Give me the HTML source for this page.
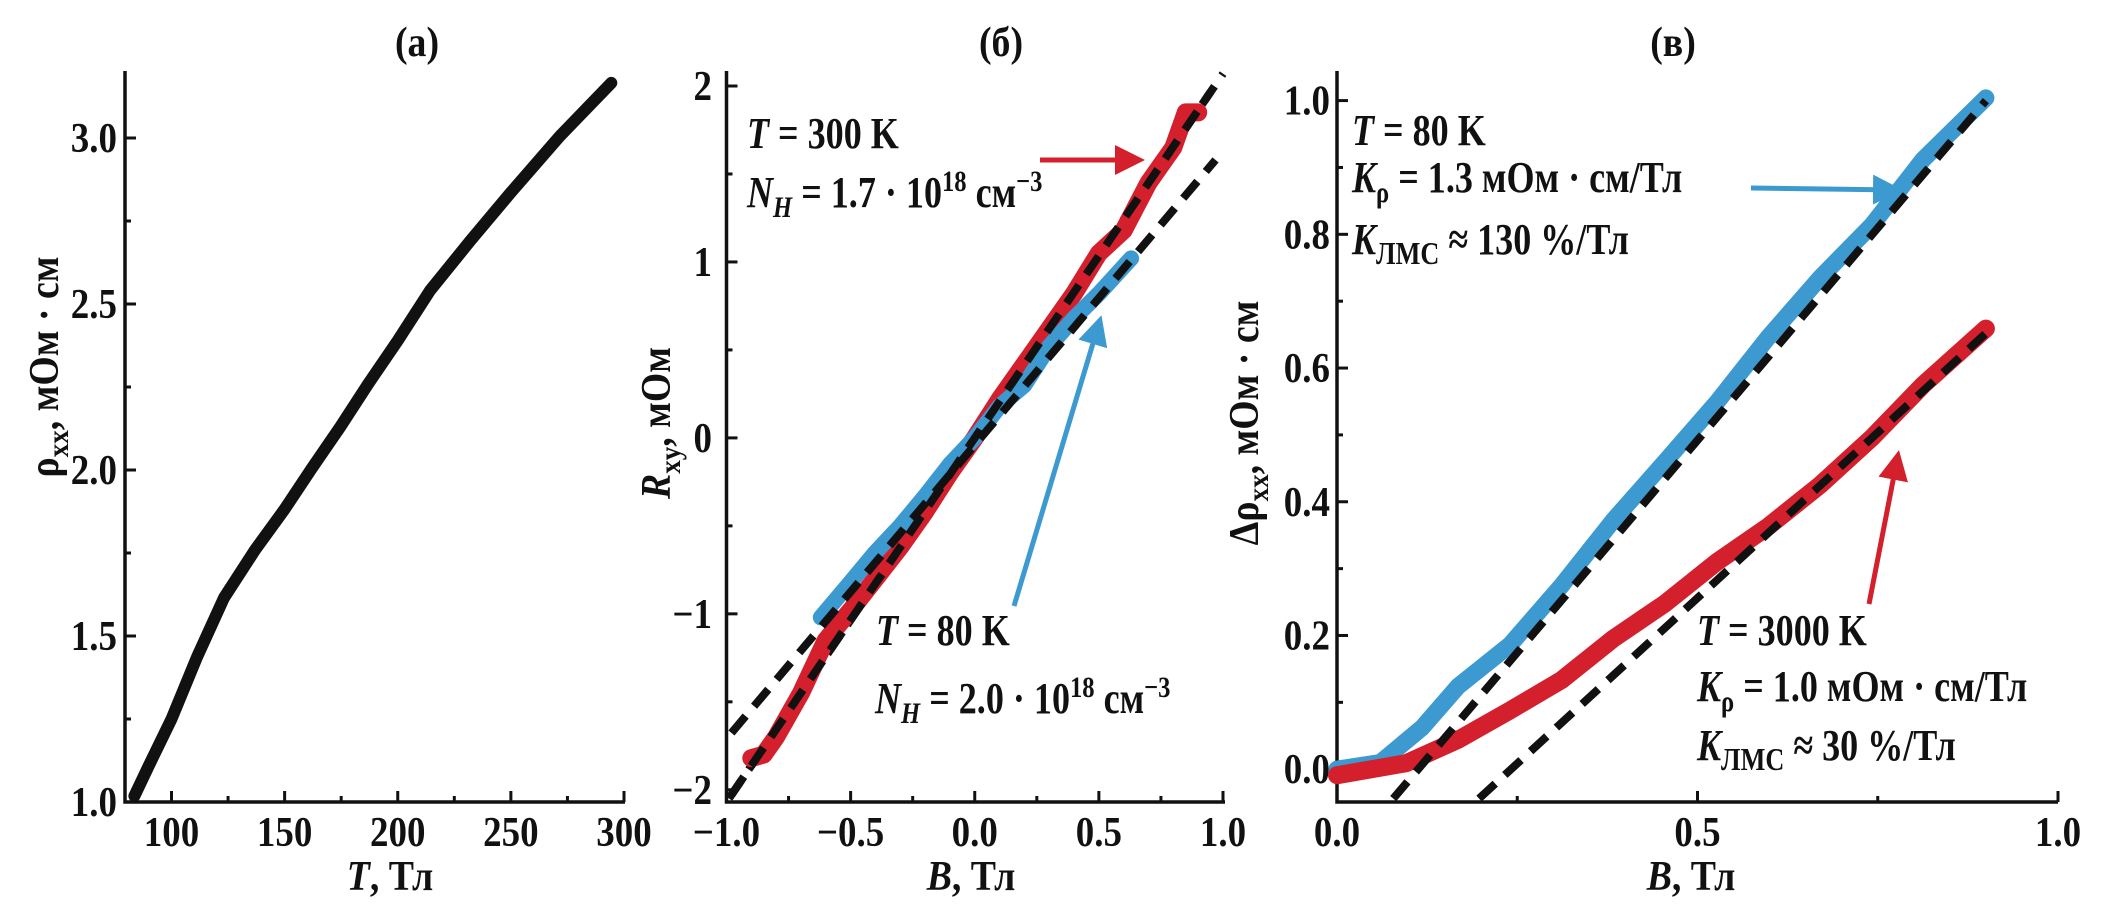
<!DOCTYPE html>
<html><head><meta charset="utf-8">
<style>
html,body{margin:0;padding:0;background:#fff;}
svg{display:block;}
text{font-family:"Liberation Serif",serif;fill:#111;font-weight:bold;}
</style></head>
<body>
<svg id="fig" width="2114" height="924" viewBox="0 0 2114 924" xmlns="http://www.w3.org/2000/svg">
<defs>
<marker id="arrRed" markerWidth="6" markerHeight="6" refX="5" refY="3" orient="auto" markerUnits="strokeWidth"><path d="M0,0 L6,3 L0,6 z" fill="#d41f2d"/></marker>
<marker id="arrBlue" markerWidth="6" markerHeight="6" refX="5" refY="3" orient="auto" markerUnits="strokeWidth"><path d="M0,0 L6,3 L0,6 z" fill="#3d9ad1"/></marker>
</defs>
<g id="pa"></g>
<g id="pb"></g>
<g id="pc"></g>
</svg>
<script>
// Panel (a) data
const aT = [83.6, 90, 100, 111.3, 123.2, 137, 150, 162, 174.6, 187, 200, 214.2, 232, 250, 271.6, 294.4];
const aRho = [1.018, 1.11, 1.25, 1.437, 1.615, 1.76, 1.882, 2.005, 2.13, 2.26, 2.39, 2.54, 2.69, 2.836, 3.005, 3.166];
const aXTicks = [100, 150, 200, 250, 300];
const aYTicks = [1.0, 1.5, 2.0, 2.5, 3.0];
// Panel (b) data
const bRedB = [-0.9,-0.85,-0.8,-0.7,-0.6,-0.5,-0.4,-0.3,-0.2,-0.1,0,0.1,0.2,0.3,0.4,0.5,0.6,0.7,0.8,0.85,0.9];
const bRedR = [-1.82,-1.8,-1.7,-1.45,-1.15,-0.98,-0.8,-0.62,-0.42,-0.2,0.0,0.22,0.42,0.62,0.82,1.05,1.18,1.45,1.65,1.85,1.85];
const bBlueB = [-0.62,-0.5,-0.4,-0.3,-0.2,-0.1,0,0.1,0.2,0.3,0.4,0.5,0.63];
const bBlueR = [-1.02,-0.82,-0.65,-0.5,-0.33,-0.15,0,0.18,0.3,0.52,0.68,0.82,1.02];
const bFitSlopes = [2.07, 1.67];
const bFitIntercepts = [0.0, -0.04];
const bXTicks = [-1.0, -0.5, 0.0, 0.5, 1.0];
const bYTicks = [-2, -1, 0, 1, 2];
// Panel (c) data
const cBlueB = [0, 0.06, 0.118, 0.168, 0.24, 0.311, 0.383, 0.455, 0.527, 0.598, 0.67, 0.742, 0.813, 0.9];
const cBlueR = [0, 0.01, 0.062, 0.124, 0.186, 0.274, 0.372, 0.46, 0.549, 0.646, 0.735, 0.814, 0.912, 1.004];
const cRedB = [0, 0.096, 0.168, 0.24, 0.311, 0.383, 0.455, 0.527, 0.598, 0.67, 0.742, 0.813, 0.9];
const cRedR = [-0.009, 0.009, 0.044, 0.088, 0.133, 0.195, 0.248, 0.31, 0.363, 0.425, 0.496, 0.575, 0.659];
const cFitSlopes = [1.27, 0.99];
const cFitIntercepts = [-0.143, -0.239];
const cFitStart = [0.078, 0.197];
const cXTicks = [0.0, 0.5, 1.0];
const cYTicks = [0.0, 0.2, 0.4, 0.6, 0.8, 1.0];

const NS = 'http://www.w3.org/2000/svg';
function mk(parent, tag, attrs, txt){
  const e = document.createElementNS(NS, tag);
  for (const k in attrs) e.setAttribute(k, attrs[k]);
  if (txt !== undefined) e.textContent = txt;
  parent.appendChild(e);
  return e;
}
function lin(d0,d1,p0,p1){ return v => p0 + (v-d0)/(d1-d0)*(p1-p0); }
function fmt(v, dec){ let s = v.toFixed(dec); if (v < 0) s = '\u2212' + s.slice(1); return s; }

function axes(g, x, y, xl, xr, yb, yt, xt, yt2, xminor, yminor, xdec, ydec, yLabRight){
  const ax = mk(g,'path',{d:`M${xl},${yt} L${xl},${yb} L${xr},${yb}`,fill:'none',stroke:'#111','stroke-width':3.5});
  
  
  xt.forEach(v=>{
    const px = x(v);
    const t = mk(g,'line',{x1:px,y1:yb,x2:px,y2:yb-11,stroke:'#111','stroke-width':3});
    
    
    const l = mk(g,'text',{x:0,y:0,'text-anchor':'middle','font-size':42,transform:`translate(${px},846) scale(0.88,1)`}, fmt(v,xdec));
    
    
  });
  xminor.forEach(v=>{
    const px = x(v);
    const t = mk(g,'line',{x1:px,y1:yb,x2:px,y2:yb-6,stroke:'#111','stroke-width':3});
    
    
  });
  yt2.forEach(v=>{
    const py = y(v);
    const t = mk(g,'line',{x1:xl,y1:py,x2:xl+11,y2:py,stroke:'#111','stroke-width':3});
    
    
    const l = mk(g,'text',{x:0,y:0,'text-anchor':'end','font-size':42,transform:`translate(${yLabRight},${py+14}) scale(0.88,1)`}, fmt(v,ydec));
    
    
  });
  yminor.forEach(v=>{
    const py = y(v);
    const t = mk(g,'line',{x1:xl,y1:py,x2:xl+6,y2:py,stroke:'#111','stroke-width':3});
    
    
  });
}
function poly(g, xs, ys, x, y, color, w, name){
  const pts = xs.map((v,i)=>x(v).toFixed(1)+','+y(ys[i]).toFixed(1)).join(' ');
  const p = mk(g,'polyline',{points:pts,fill:'none',stroke:color,'stroke-width':w,'stroke-linejoin':'round','stroke-linecap':'round'});
  
  
  return p;
}
function dashed(g, x0, y0, x1, y1, name){
  const p = mk(g,'line',{x1:x0,y1:y0,x2:x1,y2:y1,stroke:'#111','stroke-width':8,'stroke-dasharray':'22 13'});
  
  
}
function arrow(g, x0,y0,x1,y1,color,marker,name){
  const p = mk(g,'line',{x1:x0,y1:y0,x2:x1,y2:y1,stroke:color,'stroke-width':5,'marker-end':`url(#${marker})`});
  
  
}
function text(g, x, y, html, size, name, anchor, sx){
  const t = mk(g,'text',{x:0,y:0,'font-size':size,'text-anchor':anchor||'start',transform:`translate(${x},${y}) scale(${sx||0.82},1)`});
  t.innerHTML = html;
  
  
  return t;
}

// ---------- Panel (a)
(function(){
  const g = document.getElementById('pa');
  const x = lin(100,300,171.5,624);
  const y = lin(1.0,3.0,802,138);
  axes(g,x,y,125,625,802,71,aXTicks,aYTicks,[125,175,225,275],[1.25,1.75,2.25,2.75],0,1,117);
  poly(g,aT,aRho,x,y,'#111',12,'rho-vs-T-curve');
  text(g,417,56,'(а)',42,'panel-a-title','middle',0.9);
  text(g,390,890,'<tspan font-style="italic">T</tspan>, Тл',42,'x-axis-title-a','middle',0.9);
  const yt = mk(g,'text',{x:0,y:0,'font-size':42,'text-anchor':'middle',transform:'translate(58,367) rotate(-90) scale(0.9,1)'});
  yt.innerHTML = 'ρ<tspan font-size="30" dy="10">xx</tspan><tspan dy="-10">, мОм · см</tspan>';
  
  
})();

// ---------- Panel (b)
(function(){
  const g = document.getElementById('pb');
  const x = lin(-1,1,726.5,1223);
  const y = lin(0,2,437.9,86);
  axes(g,x,y,726.5,1225,802,71,bXTicks,bYTicks,[-0.75,-0.25,0.25,0.75],[-1.5,-0.5,0.5,1.5],1,0,712);
  dashed(g,x(-0.99),y(bFitSlopes[0]*-0.99+bFitIntercepts[0]),x(1.0),y(bFitSlopes[0]*1.0+bFitIntercepts[0]),'fit-line-300K');
  poly(g,bRedB,bRedR,x,y,'#d41f2d',18,'data-300K');
  poly(g,bBlueB,bBlueR,x,y,'#3d9ad1',16,'data-80K');
  dashed(g,x(-0.98),y(bFitSlopes[0]*-0.98+bFitIntercepts[0]),x(0.95),y(bFitSlopes[0]*0.95+bFitIntercepts[0]),'fit-line-300K-top');
  dashed(g,x(-0.98),y(bFitSlopes[1]*-0.98+bFitIntercepts[1]),x(0.97),y(bFitSlopes[1]*0.97+bFitIntercepts[1]),'fit-line-80K');
  arrow(g,1040,160,1140,160,'#d41f2d','arrRed','arrow-300K');
  arrow(g,1014,606,1100,320,'#3d9ad1','arrBlue','arrow-80K');
  text(g,1001,56,'(б)',42,'panel-b-title','middle',0.9);
  text(g,747,148,'<tspan font-style="italic">T</tspan> = 300 K',44,'label-300K');
  text(g,747,207,'<tspan font-style="italic">N<tspan font-size="30" dy="10">H</tspan></tspan><tspan dy="-10"> = 1.7 · 10</tspan><tspan font-size="30" dy="-16">18</tspan><tspan dy="16"> см</tspan><tspan font-size="30" dy="-16">−3</tspan>',44,'label-NH-300K');
  text(g,876,645,'<tspan font-style="italic">T</tspan> = 80 K',44,'label-80K');
  text(g,875,713,'<tspan font-style="italic">N<tspan font-size="30" dy="10">H</tspan></tspan><tspan dy="-10"> = 2.0 · 10</tspan><tspan font-size="30" dy="-16">18</tspan><tspan dy="16"> см</tspan><tspan font-size="30" dy="-16">−3</tspan>',44,'label-NH-80K');
  text(g,971,890,'<tspan font-style="italic">B</tspan>, Тл',42,'x-axis-title-b','middle',0.9);
  const yt = mk(g,'text',{x:0,y:0,'font-size':42,'text-anchor':'middle',transform:'translate(670,423) rotate(-90) scale(0.9,1)'});
  yt.innerHTML = '<tspan font-style="italic">R</tspan><tspan font-size="30" dy="10">xy</tspan><tspan dy="-10">, мОм</tspan>';
  
  
})();

// ---------- Panel (c)
(function(){
  const g = document.getElementById('pc');
  const x = lin(0,1,1337,2058);
  const y = lin(0,1,769.2,100.6);
  axes(g,x,y,1337,2058,802,71,cXTicks,cYTicks,[0.25,0.75],[0.1,0.3,0.5,0.7,0.9],1,1,1330);
  poly(g,cBlueB,cBlueR,x,y,'#3d9ad1',17,'data-80K');
  poly(g,cRedB,cRedR,x,y,'#d41f2d',18,'data-3000K');
  dashed(g,x(cFitStart[0]),y(cFitSlopes[0]*cFitStart[0]+cFitIntercepts[0]),x(0.9),y(cFitSlopes[0]*0.9+cFitIntercepts[0]),'fit-line-80K');
  dashed(g,x(cFitStart[1]),y(cFitSlopes[1]*cFitStart[1]+cFitIntercepts[1]),x(0.9),y(cFitSlopes[1]*0.9+cFitIntercepts[1]),'fit-line-3000K');
  arrow(g,1751,188,1898,190,'#3d9ad1','arrBlue','arrow-80K');
  arrow(g,1869,604,1898,455,'#d41f2d','arrRed','arrow-3000K');
  text(g,1673,56,'(в)',42,'panel-c-title','middle',0.9);
  text(g,1352,145,'<tspan font-style="italic">T</tspan> = 80 K',44,'label-80K');
  text(g,1352,192,'<tspan font-style="italic">K</tspan><tspan font-size="30" dy="10">ρ</tspan><tspan dy="-10"> = 1.3 мОм · см/Тл</tspan>',44,'label-Krho-80K');
  text(g,1352,254,'<tspan font-style="italic">K</tspan><tspan font-size="32" dy="10">ЛМС</tspan><tspan dy="-10"> ≈ 130 %/Тл</tspan>',44,'label-KLMS-80K');
  text(g,1697,645,'<tspan font-style="italic">T</tspan> = 3000 K',44,'label-3000K');
  text(g,1697,701,'<tspan font-style="italic">K</tspan><tspan font-size="30" dy="10">ρ</tspan><tspan dy="-10"> = 1.0 мОм · см/Тл</tspan>',44,'label-Krho-3000K');
  text(g,1697,760,'<tspan font-style="italic">K</tspan><tspan font-size="32" dy="10">ЛМС</tspan><tspan dy="-10"> ≈ 30 %/Тл</tspan>',44,'label-KLMS-3000K');
  text(g,1691,890,'<tspan font-style="italic">B</tspan>, Тл',42,'x-axis-title-c','middle',0.9);
  const yt = mk(g,'text',{x:0,y:0,'font-size':42,'text-anchor':'middle',transform:'translate(1258,423) rotate(-90) scale(0.9,1)'});
  yt.innerHTML = 'Δρ<tspan font-size="30" dy="10">xx</tspan><tspan dy="-10">, мОм · см</tspan>';
  
  
})();
</script>
</body></html>
